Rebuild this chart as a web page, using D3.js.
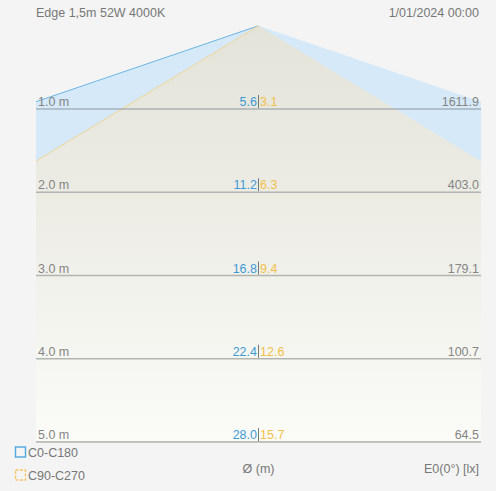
<!DOCTYPE html>
<html>
<head>
<meta charset="utf-8">
<script src="https://cdn.jsdelivr.net/npm/d3@7"></script>
<style>
  body { margin: 0; background: #f4f4f4; }
  svg { display: block; font-family: "Liberation Sans", Arial, sans-serif; }
</style>
</head>
<body>
<div id="chart"></div>
<script>
// data
const title = "Edge 1,5m 52W 4000K";
const stamp = "1/01/2024 00:00";
const distances = [1, 2, 3, 4, 5];
const diamC0 = [5.6, 11.2, 16.8, 22.4, 28.0];
const diamC90 = [3.1, 6.3, 9.4, 12.6, 15.7];
const lux = [1611.9, 403.0, 179.1, 100.7, 64.5];
const legendLabels = ["C0-C180", "C90-C270"];

const width = 496, height = 491;
const plotLeft = 36, plotRight = 481, plotTop = 25.75, plotBottom = 442;
const fs = 12.5;

const svg = d3.select("#chart").append("svg")
    .attr("width", width)
    .attr("height", height);

svg.append("rect").attr("width", width).attr("height", height).attr("fill", "#f4f4f4");

const x = d3.scaleLinear().domain([-2.555, 2.555]).range([plotLeft, plotRight]);
const y = d3.scaleLinear().domain([0, 5]).range([plotTop, plotBottom]);

const defs = svg.append("defs");
defs.append("clipPath").attr("id", "plot")
    .append("rect").attr("x", plotLeft).attr("y", plotTop - 2)
    .attr("width", plotRight - plotLeft).attr("height", plotBottom - plotTop + 2);

const grad = defs.append("linearGradient").attr("id", "fade")
    .attr("gradientUnits", "userSpaceOnUse")
    .attr("x1", 0).attr("y1", plotTop).attr("x2", 0).attr("y2", plotBottom);
grad.append("stop").attr("offset", 0).attr("stop-color", "#e3e3d9");
grad.append("stop").attr("offset", 0.45).attr("stop-color", "#ededE6");
grad.append("stop").attr("offset", 1).attr("stop-color", "#fbfbf8");

const beam = (diam) => {
    const last = distances.length - 1;
    const half = diam[last] / 2;
    return [[0, 0], [-half, distances[last]], [half, distances[last]]];
};
const line = d3.line().x(d => x(d[0])).y(d => y(d[1]));

const g = svg.append("g").attr("clip-path", "url(#plot)");

//blue beam
g.append("path")
    .attr("d", line(beam(diamC0)) + "Z")
    .attr("fill", "#d5e9f8");

//orange beam over it
g.append("path")
    .attr("d", line(beam(diamC90)) + "Z")
    .attr("fill", "url(#fade)");

g.append("path")
    .attr("d", line(beam(diamC0)))
    .attr("fill", "none")
    .attr("stroke", "#6bb5e3")
    .attr("stroke-width", 1);

g.append("path")
    .attr("d", line(beam(diamC90)))
    .attr("fill", "none")
    .attr("stroke", "#f1d596")
    .attr("stroke-width", 1);

//distance lines and labels
const rows = svg.append("g").selectAll("g")
    .data(distances)
    .enter().append("g")
    .attr("transform", d => `translate(0,${y(d)})`);

rows.append("line")
    .attr("x1", plotLeft).attr("x2", plotRight)
    .attr("stroke", (d, i) => i === 0 ? "#8c96a0" : "#b4b4b0")
    .attr("stroke-width", (d, i) => i === 0 ? 1 : 1.5);

rows.append("text")
    .attr("x", plotLeft + 2).attr("y", -3)
    .attr("font-size", fs).attr("fill", "#858585")
    .text(d => d.toFixed(1) + " m");

rows.append("text")
    .attr("x", plotRight - 2).attr("y", -3)
    .attr("text-anchor", "end")
    .attr("font-size", fs).attr("fill", "#858585")
    .text((d, i) => lux[i].toFixed(1));

const cx = x(0);
rows.append("text")
    .attr("x", cx - 1.5).attr("y", -3)
    .attr("text-anchor", "end")
    .attr("font-size", fs).attr("fill", "#3d9ad6")
    .text((d, i) => diamC0[i].toFixed(1));

rows.append("line")
    .attr("x1", cx).attr("x2", cx)
    .attr("y1", -14).attr("y2", -1)
    .attr("stroke", "#777").attr("stroke-width", 1);

rows.append("text")
    .attr("x", cx + 1.5).attr("y", -3)
    .attr("font-size", fs).attr("fill", "#f2c04a")
    .text((d, i) => diamC90[i].toFixed(1));

//header
svg.append("text")
    .attr("x", plotLeft).attr("y", 17)
    .attr("font-size", fs).attr("fill", "#777")
    .text(title);

svg.append("text")
    .attr("x", plotRight - 2).attr("y", 17)
    .attr("text-anchor", "end")
    .attr("font-size", fs).attr("fill", "#777")
    .text(stamp);

//legend
const legendColors = ["#4fa8dd", "#f3c766"];
const legend = svg.append("g").selectAll("g")
    .data(legendLabels)
    .enter().append("g")
    .attr("transform", (d, i) => `translate(15,${446.5 + i * 23})`);

legend.append("rect")
    .attr("x", 0.5).attr("y", 0.5)
    .attr("width", 10).attr("height", 10)
    .attr("fill", "none")
    .attr("stroke", (d, i) => legendColors[i])
    .attr("stroke-width", 1.4)
    .attr("stroke-dasharray", (d, i) => i === 1 ? "3,1.5" : null);

legend.append("text")
    .attr("x", 13).attr("y", 10.5)
    .attr("font-size", fs).attr("fill", "#777")
    .text(d => d);

svg.append("text")
    .attr("x", cx).attr("y", 473)
    .attr("text-anchor", "middle")
    .attr("font-size", fs).attr("fill", "#777")
    .text("Ø (m)");

svg.append("text")
    .attr("x", plotRight - 2).attr("y", 473)
    .attr("text-anchor", "end")
    .attr("font-size", fs).attr("fill", "#777")
    .text("E0(0°) [lx]");
</script>
</body>
</html>
